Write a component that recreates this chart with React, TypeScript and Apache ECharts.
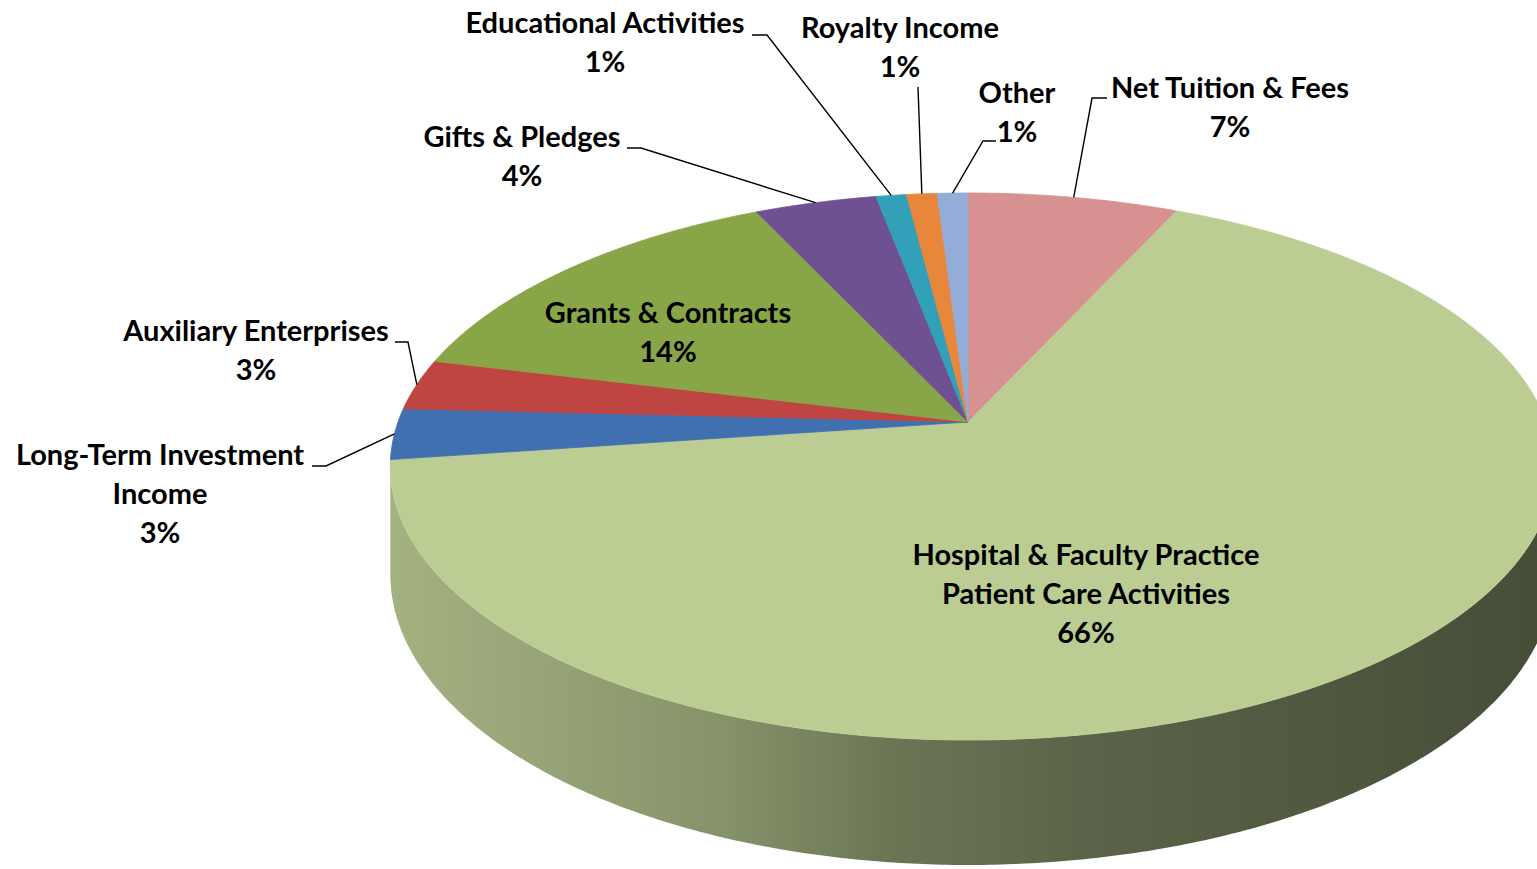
import React, { useEffect, useRef } from "react";
import * as echarts from "echarts";

// ---------- data ----------
const CATEGORIES = [
  "Net Tuition & Fees",
  "Hospital & Faculty Practice\nPatient Care Activities",
  "Long-Term Investment\nIncome",
  "Auxiliary Enterprises",
  "Grants & Contracts",
  "Gifts & Pledges",
  "Educational Activities",
  "Royalty Income",
  "Other",
];
const VALUES = [6.8, 66.0, 3.0, 3.0, 14.2, 4.0, 1.0, 1.0, 1.0];
const COLORS = [
  "#d69190",
  "#bccd94",
  "#4170b0",
  "#bf4543",
  "#88a548",
  "#6e5093",
  "#31a0b8",
  "#e8873c",
  "#94acd8",
];

// ---------- layout (not data) ----------
const LABEL_POS: number[][] = [
  [1230, 106],
  [1086, 592.5],
  [160, 492.5],
  [256, 349],
  [668, 331],
  [522, 155],
  [605, 41],
  [900, 45.5],
  [1017, 111],
];
const LEADER_FROM: (number[][] | null)[] = [
  [[1107, 98], [1092, 98]],
  null,
  [[312, 466], [326, 466]],
  [[395, 342], [408, 342]],
  null,
  [[627, 148], [641, 148]],
  [[752, 35], [767, 35]],
  [[918, 87]],
  [[996, 141], [983, 141]],
];

const GEO = { x0: 968, y0: 422, axL: 570, axR: 578, ay: 266.3, k: 0.1627, H: 104.6 };
const SHADE: number[][] = [
  [0, 0.87],
  [0.28, 0.72],
  [0.44, 0.57],
  [0.62, 0.48],
  [1, 0.38],
];
const FONT = "Lato";
const FONT_SIZE = 29;
const LINE_H = 39;

const TOTAL = VALUES.reduce((a, b) => a + b, 0);
const STARTS: number[] = [];
{
  let acc = 0;
  for (const v of VALUES) {
    STARTS.push((acc / TOTAL) * Math.PI * 2);
    acc += v;
  }
}
const ang = (i: number) => [STARTS[i], STARTS[i] + (VALUES[i] / TOTAL) * Math.PI * 2];

function proj(t: number, bottom = false): number[] {
  const u = Math.sin(t);
  const v = Math.cos(t);
  const w = 1 + GEO.k * v;
  const ax = u < 0 ? GEO.axL : GEO.axR;
  const x = GEO.x0 + (ax * u) / w;
  let y = GEO.y0 - (GEO.ay * v) / w;
  if (bottom) y += GEO.H / w;
  return [x, y];
}

function arc(a0: number, a1: number, bottom = false): number[][] {
  const n = Math.max(2, Math.ceil((a1 - a0) / (Math.PI / 360)));
  const pts: number[][] = [];
  for (let j = 0; j <= n; j++) pts.push(proj(a0 + ((a1 - a0) * j) / n, bottom));
  return pts;
}

// silhouette angles
let TH_R = 0;
let TH_L = 0;
{
  let maxX = -Infinity;
  let minX = Infinity;
  for (let j = 0; j < 3600; j++) {
    const t = (j / 3600) * Math.PI * 2;
    const [x] = proj(t);
    if (x > maxX) { maxX = x; TH_R = t; }
    if (x < minX) { minX = x; TH_L = t; }
  }
}

function shade(hex: string, f: number) {
  const n = parseInt(hex.slice(1), 16);
  const r = Math.round(((n >> 16) & 255) * f);
  const g = Math.round(((n >> 8) & 255) * f);
  const b = Math.round((n & 255) * f);
  return `rgb(${r},${g},${b})`;
}

const empty = { type: "group", children: [] };

function renderWall(params: any) {
  const i = params.dataIndex;
  const [a0, a1] = ang(i);
  const lo = Math.max(a0, TH_R);
  const hi = Math.min(a1, TH_L);
  if (hi <= lo) return empty;
  const top = arc(lo, hi);
  const bot = arc(lo, hi, true).reverse();
  return {
    type: "polygon",
    shape: { points: top.concat(bot) },
    style: {
      fill: {
        type: "linear",
        x: 392,
        y: 0,
        x2: 1537,
        y2: 0,
        global: true,
        colorStops: SHADE.map(([o, f]) => ({ offset: o, color: shade(COLORS[i], f) })),
      },
    },
  };
}

function renderTop(params: any) {
  const i = params.dataIndex;
  const [a0, a1] = ang(i);
  const pts = [[GEO.x0, GEO.y0]].concat(arc(a0, a1));
  return {
    type: "polygon",
    shape: { points: pts },
    style: { fill: COLORS[i], stroke: COLORS[i], lineWidth: 0.8 },
  };
}

function renderLabel(params: any) {
  const i = params.dataIndex;
  const [a0, a1] = ang(i);
  const children: any[] = [];
  const from = LEADER_FROM[i];
  if (from) {
    const end = proj((a0 + a1) / 2);
    children.push({
      type: "polyline",
      shape: { points: from.concat([end]) },
      style: { stroke: "#000", lineWidth: 1.4, fill: null },
    });
  }
  const pct = Math.round((VALUES[i] / TOTAL) * 100) + "%";
  children.push({
    type: "text",
    style: {
      text: CATEGORIES[i] + "\n" + pct,
      x: LABEL_POS[i][0],
      y: LABEL_POS[i][1],
      align: "center",
      verticalAlign: "middle",
      fontFamily: FONT,
      fontWeight: "bold",
      fontSize: FONT_SIZE,
      lineHeight: LINE_H,
      fill: "#000",
    },
  });
  return { type: "group", children };
}

export default function App() {
  const ref = useRef<HTMLDivElement>(null);
  useEffect(() => {
    if (!ref.current) return;
    const chart = echarts.init(ref.current, undefined, { renderer: "svg" });
    const data = VALUES.map((v, i) => ({ value: v, name: CATEGORIES[i] }));
    chart.setOption({
      animation: false,
      backgroundColor: "#ffffff",
      series: [
        { type: "custom", coordinateSystem: "none", z: 1, data, renderItem: renderWall, silent: true },
        { type: "custom", coordinateSystem: "none", z: 2, data, renderItem: renderTop, silent: true },
        { type: "custom", coordinateSystem: "none", z: 3, data, renderItem: renderLabel, silent: true },
      ],
    });
    return () => chart.dispose();
  }, []);
  return (
    <div
      ref={ref}
      style={{ position: "fixed", left: 0, top: 0, width: 1537, height: 869 }}
    />
  );
}
